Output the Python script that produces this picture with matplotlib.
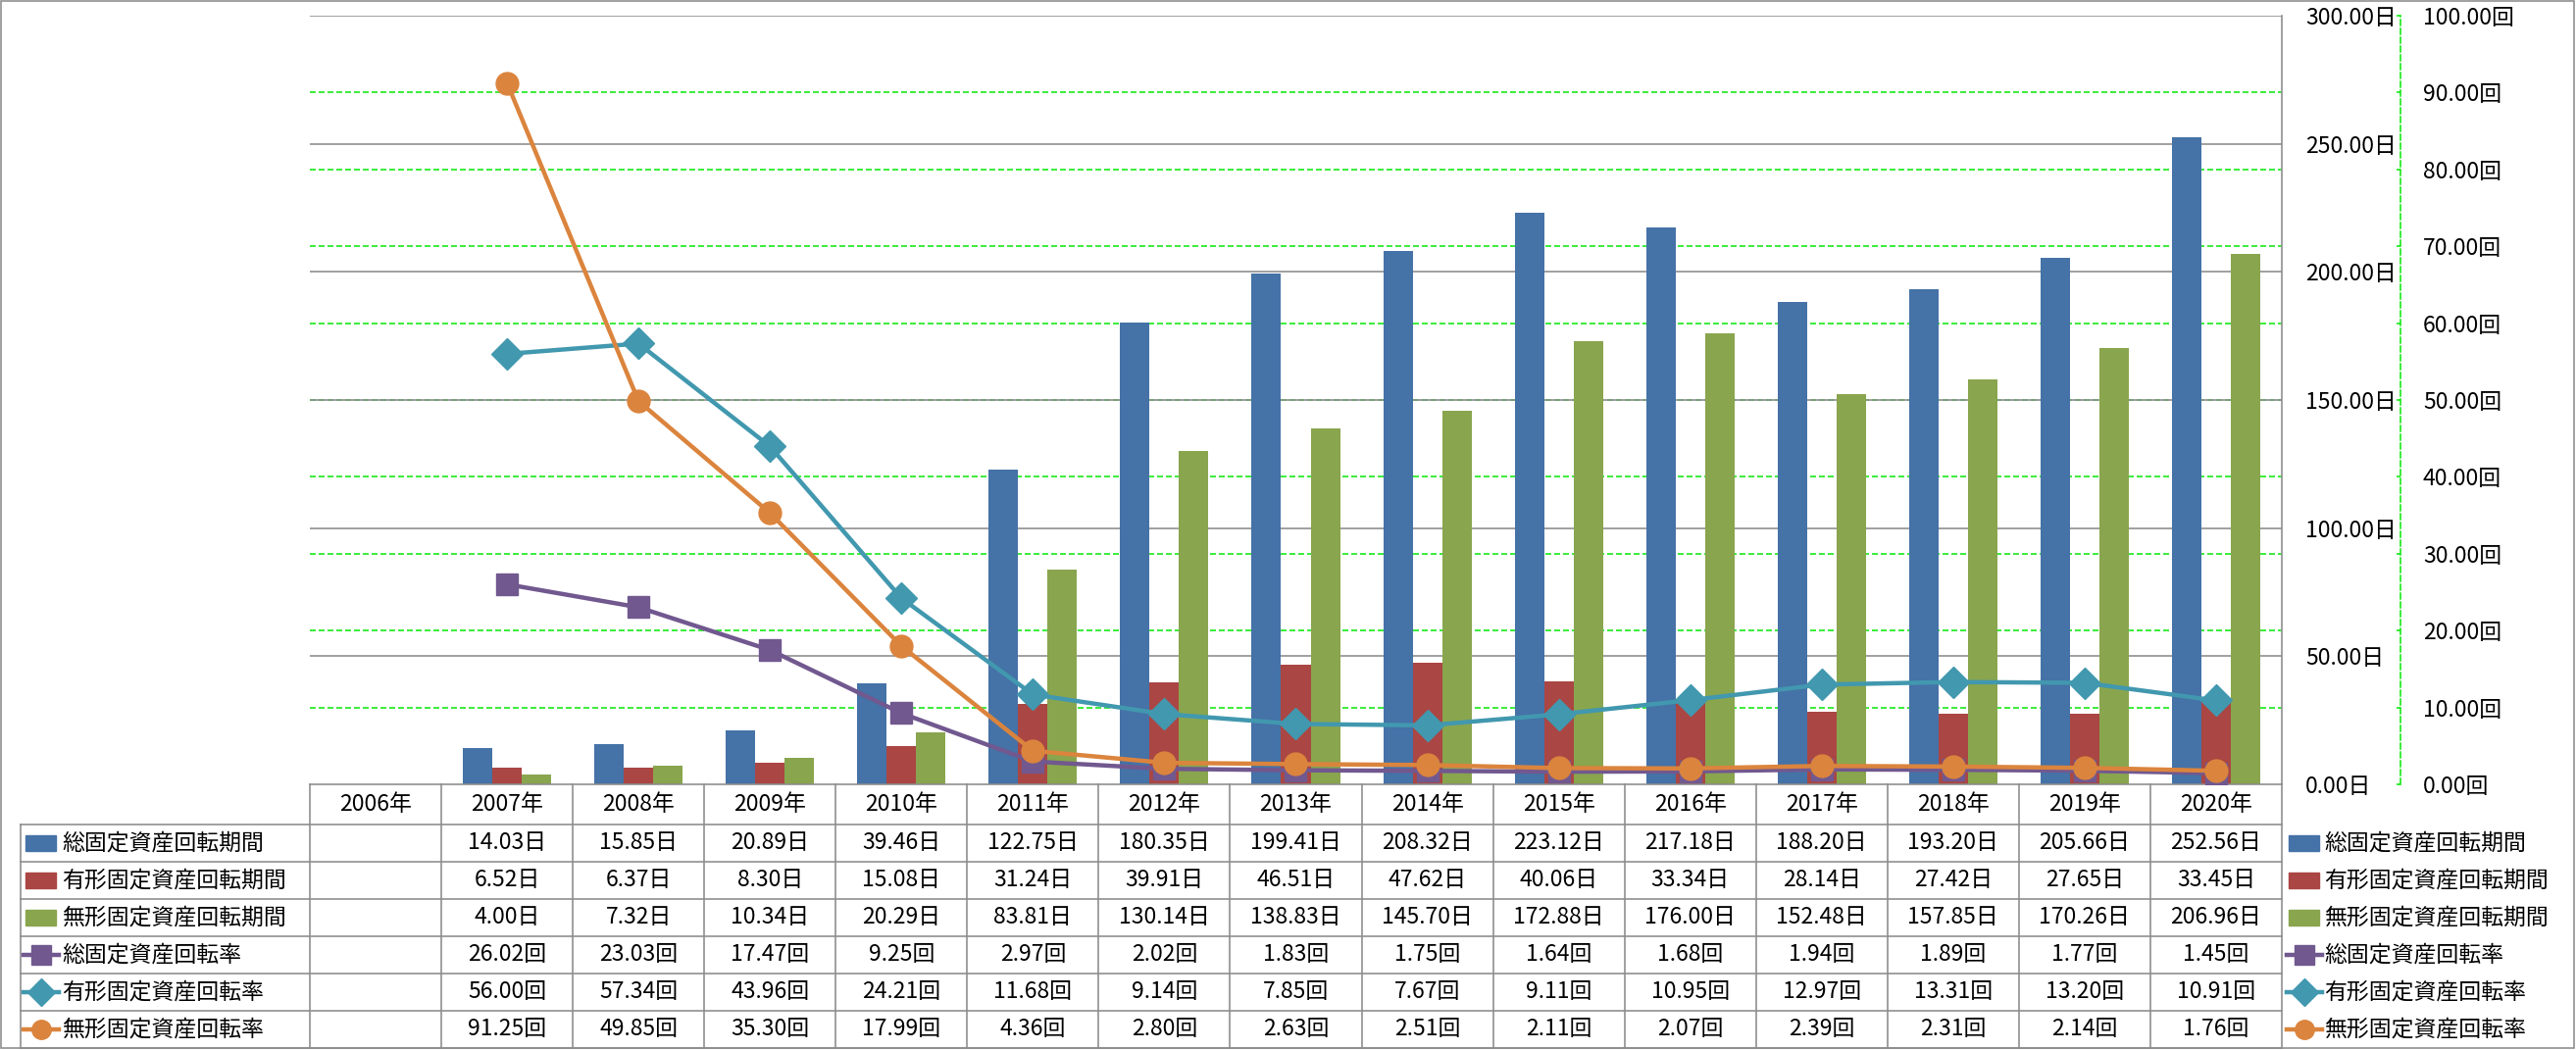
import numpy as np
import matplotlib
matplotlib.use('Agg')
import matplotlib.pyplot as plt
from matplotlib.lines import Line2D
from matplotlib.patches import Rectangle

plt.rcParams['font.family'] = ['Noto Sans CJK JP', 'DejaVu Sans']

years = ['2006年', '2007年', '2008年', '2009年', '2010年', '2011年', '2012年', '2013年',
         '2014年', '2015年', '2016年', '2017年', '2018年', '2019年', '2020年']
nan = np.nan
total_period = [nan, 14.03, 15.85, 20.89, 39.46, 122.75, 180.35, 199.41, 208.32, 223.12,
                217.18, 188.20, 193.20, 205.66, 252.56]
tangible_period = [nan, 6.52, 6.37, 8.30, 15.08, 31.24, 39.91, 46.51, 47.62, 40.06,
                   33.34, 28.14, 27.42, 27.65, 33.45]
intangible_period = [nan, 4.00, 7.32, 10.34, 20.29, 83.81, 130.14, 138.83, 145.70, 172.88,
                     176.00, 152.48, 157.85, 170.26, 206.96]
total_rate = [nan, 26.02, 23.03, 17.47, 9.25, 2.97, 2.02, 1.83, 1.75, 1.64,
              1.68, 1.94, 1.89, 1.77, 1.45]
tangible_rate = [nan, 56.00, 57.34, 43.96, 24.21, 11.68, 9.14, 7.85, 7.67, 9.11,
                 10.95, 12.97, 13.31, 13.20, 10.91]
intangible_rate = [nan, 91.25, 49.85, 35.30, 17.99, 4.36, 2.80, 2.63, 2.51, 2.11,
                   2.07, 2.39, 2.31, 2.14, 1.76]

bar_names = ['総固定資産回転期間', '有形固定資産回転期間', '無形固定資産回転期間']
line_names = ['総固定資産回転率', '有形固定資産回転率', '無形固定資産回転率']
bar_colors = ['#4572A7', '#AA4643', '#89A54E']
line_colors = ['#71588F', '#4198AF', '#DB843D']
line_markers = ['s', 'D', 'o']

W, H = 2627, 1071
DPI = 100
fig = plt.figure(figsize=(W / DPI, H / DPI), dpi=DPI)

def fx(x):
    return x / W

def fy(y):
    return 1 - y / H

px = 72 / DPI  # one pixel in points
GRAY = '#8c8c8c'
GREEN = '#00e600'
FS = 16.5

# plot area
L, R, T, B = 316, 2327, 16, 800
ax = fig.add_axes([fx(L), fy(B), fx(R - L), (B - T) / H])
n = len(years)
xs = np.arange(n)
ax.set_xlim(-0.5, n - 0.5)
ax.set_ylim(0, 300)

# gridlines: green dashed every 10回 (=30日), gray solid every 50日
for v in range(30, 300, 30):
    ax.axhline(v, color=GREEN, lw=1.5 * px, dashes=(4, 2), zorder=0)
for v in range(50, 301, 50):
    ax.axhline(v, color=GRAY, lw=1.6 * px, zorder=0.5)

bw = 0.224
for k, (vals, c) in enumerate(zip([total_period, tangible_period, intangible_period], bar_colors)):
    ax.bar(xs + (k - 1) * bw, vals, width=bw, color=c, zorder=2)

# secondary axis for the rates
ax2 = ax.twinx()
ax2.set_ylim(0, 100)
for vals, c, m in zip([total_rate, tangible_rate, intangible_rate], line_colors, line_markers):
    ms = 16.5 if m != 'D' else 16.8
    ax2.plot(xs, vals, color=c, lw=3.2, marker=m, markersize=ms,
             markeredgecolor=c, markeredgewidth=1, solid_joinstyle='round', zorder=3)

# primary axis on the right side (after twinx, which resets it to the left)
for s in ['top', 'left']:
    ax.spines[s].set_visible(False)
ax.spines['right'].set_color(GRAY)
ax.spines['bottom'].set_color(GRAY)
ax.spines['right'].set_linewidth(1.6 * px)
ax.spines['bottom'].set_linewidth(1.6 * px)
ax.set_xticks([])
ax.yaxis.tick_right()
ax.yaxis.set_label_position('right')
ax.set_yticks(range(0, 301, 50))
ax.set_yticklabels(['%.2f日' % v for v in range(0, 301, 50)], fontsize=FS)
ax.tick_params(axis='y', left=False, labelleft=False, right=True, labelright=True,
               length=0, pad=24 * px)

for s in ['top', 'left', 'bottom']:
    ax2.spines[s].set_visible(False)
ax2.spines['right'].set_position(('outward', (2448 - R) * px))
ax2.spines['right'].set_color(GREEN)
ax2.spines['right'].set_linestyle((0, (4, 2)))
ax2.spines['right'].set_linewidth(1.5 * px)
ax2.set_yticks(range(0, 101, 10))
ax2.set_yticklabels(['%.2f回' % v for v in range(0, 101, 10)], fontsize=FS)
ax2.tick_params(axis='y', direction='in', length=4 * px, color=GREEN,
                width=1.5 * px, pad=23 * px)
ax2.set_xticks([])

# data table under the plot
col_w = (R - L) / n
row_edges = [841, 879, 917, 955, 993, 1031, 1069]
tl = 21

def hline(y, x0, x1):
    fig.add_artist(Line2D([fx(x0), fx(x1)], [fy(y), fy(y)], color=GRAY, lw=1.6 * px))

def vline(x, y0, y1):
    fig.add_artist(Line2D([fx(x), fx(x)], [fy(y0), fy(y1)], color=GRAY, lw=1.6 * px))

for y in row_edges:
    hline(y, tl, R)
vline(tl, row_edges[0], row_edges[-1])
for k in range(n + 1):
    vline(L + k * col_w, B, row_edges[-1])

for k, yl in enumerate(years):
    fig.text(fx(L + (k + 0.5) * col_w), fy((B + row_edges[0]) / 2), yl,
             ha='center', va='center', fontsize=FS)

rows = [total_period, tangible_period, intangible_period, total_rate, tangible_rate, intangible_rate]
units = ['日', '日', '日', '回', '回', '回']
names = bar_names + line_names
for r, (vals, u) in enumerate(zip(rows, units)):
    yc = (row_edges[r] + row_edges[r + 1]) / 2
    for k, v in enumerate(vals):
        if np.isnan(v):
            continue
        fig.text(fx(L + (k + 0.5) * col_w), fy(yc), '%.2f%s' % (v, u),
                 ha='center', va='center', fontsize=FS)

def legend_key(x0, yc, r):
    if r < 3:
        fig.add_artist(Rectangle((fx(x0), fy(yc + 8)), 31 / W, 16 / H,
                                 color=bar_colors[r], transform=fig.transFigure))
    else:
        c = line_colors[r - 3]
        m = line_markers[r - 3]
        fig.add_artist(Line2D([fx(x0 - 2), fx(x0 + 34)], [fy(yc), fy(yc)], color=c, lw=3.2))
        fig.add_artist(Line2D([fx(x0 + 16)], [fy(yc)], color=c, marker=m, markersize=14,
                              markeredgecolor=c))

for r, nm in enumerate(names):
    yc = (row_edges[r] + row_edges[r + 1]) / 2
    legend_key(26, yc, r)
    fig.text(fx(63), fy(yc), nm, ha='left', va='center', fontsize=FS)
    legend_key(2334, yc, r)
    fig.text(fx(2370), fy(yc), nm, ha='left', va='center', fontsize=FS)

# outer frame
fig.add_artist(Rectangle((fx(1), fy(1069)), (W - 3) / W, 1068 / H, fill=False,
                         edgecolor=GRAY, lw=1.6 * px, transform=fig.transFigure))

fig.savefig('out.png', dpi=DPI)
